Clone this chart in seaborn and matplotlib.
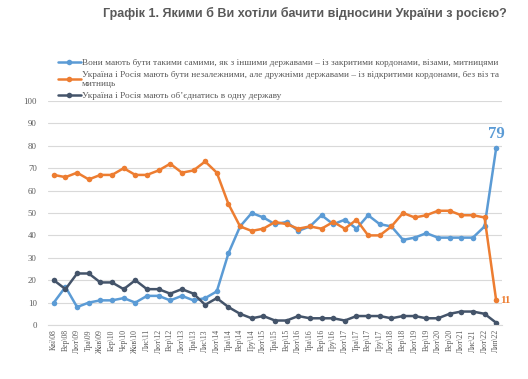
import matplotlib
matplotlib.use("Agg")
import matplotlib.pyplot as plt
import seaborn as sns
import pandas as pd

periods = ["Кві\\08", "Вер\\08", "Лют\\09", "Тра\\09", "Жов\\09", "Бер\\10", "Чер\\10", "Жов\\10",
           "Лис\\11", "Лют\\12", "Вер\\12", "Лют\\13", "Тра\\13", "Лис\\13", "Лют\\14", "Тра\\14",
           "Вер\\14", "Гру\\14", "Лют\\15", "Тра\\15", "Вер\\15", "Лют\\16", "Тра\\16", "Вер\\16",
           "Гру\\16", "Лют\\17", "Тра\\17", "Вер\\17", "Гру\\17", "Лют\\18", "Вер\\18", "Лют\\19",
           "Вер\\19", "Лют\\20", "Вер\\20", "Лют\\21", "Лис\\21", "Лют\\22", "Лип\\22"]

closed_borders = [10, 17, 8, 10, 11, 11, 12, 10, 13, 13, 11, 13, 11, 12, 15, 32, 44, 50, 48, 45,
                  46, 42, 44, 49, 45, 47, 43, 49, 45, 44, 38, 39, 41, 39, 39, 39, 39, 44, 79]
open_borders = [67, 66, 68, 65, 67, 67, 70, 67, 67, 69, 72, 68, 69, 73, 68, 54, 44, 42, 43, 46,
                45, 43, 44, 43, 46, 43, 47, 40, 40, 44, 50, 48, 49, 51, 51, 49, 49, 48, 11]
one_state = [20, 16, 23, 23, 19, 19, 16, 20, 16, 16, 14, 16, 14, 9, 12, 8, 5, 3, 4, 2,
             2, 4, 3, 3, 3, 2, 4, 4, 4, 3, 4, 4, 3, 3, 5, 6, 6, 5, 1]

series_names = [
    "Вони мають бути такими самими, як з іншими державами – із закритими кордонами, візами, митницями",
    "Україна і Росія мають бути незалежними, але дружніми державами – із відкритими кордонами, без віз та\nмитниць",
    "Україна і Росія мають об’єднатись в одну державу",
]
colors = ["#5B9BD5", "#ED7D31", "#44546A"]
title = "Графік 1. Якими б Ви хотіли бачити відносини України з росією?"

rows = []
for name, vals in zip(series_names, [closed_borders, open_borders, one_state]):
    for i, v in enumerate(vals):
        rows.append({"idx": i, "period": periods[i], "value": v, "series": name})
df = pd.DataFrame(rows)

sns.set_theme(style="white")
plt.rcParams["font.family"] = ["Liberation Serif", "DejaVu Serif"]

fig = plt.figure(figsize=(5.28, 3.79), dpi=100)
ax = fig.add_axes([48 / 528, 1 - 325 / 379, (502 - 48) / 528, (325 - 101) / 379])

sns.lineplot(data=df, x="idx", y="value", hue="series", hue_order=series_names,
             palette=colors, marker="o", markersize=4, markeredgewidth=0,
             linewidth=1.8, ax=ax, legend=True)

ax.set_xlim(-0.5, len(periods) - 0.5)
ax.set_ylim(0, 100)
ax.set_yticks(range(0, 101, 10))
ax.set_xticks(range(len(periods)))
ax.set_xticklabels(periods, rotation=90, fontsize=5.6, color="#595959")
ax.tick_params(axis="y", labelsize=6.3, labelcolor="#595959", length=0, pad=8)
ax.tick_params(axis="x", length=0, pad=3)
ax.grid(axis="y", color="#D9D9D9", linewidth=0.8)
ax.set_axisbelow(True)
for s in ["left", "right", "top"]:
    ax.spines[s].set_visible(False)
ax.spines["bottom"].set_color("#D9D9D9")
ax.spines["bottom"].set_linewidth(0.8)
ax.set_xlabel("")
ax.set_ylabel("")

handles, labels = ax.get_legend_handles_labels()
ax.get_legend().remove()
fig.legend(handles, labels, loc="upper left", bbox_to_anchor=(54 / 528, 1 - 55 / 379),
           frameon=False, fontsize=6.65, labelcolor="#595959", handlelength=2.5,
           handletextpad=0.15, labelspacing=0.4, borderaxespad=0)

last = len(periods) - 1
ax.annotate(str(closed_borders[last]), (last, closed_borders[last]), xytext=(0, 4),
            textcoords="offset points", ha="center", va="bottom", color=colors[0],
            fontsize=12, fontweight="bold")
ax.annotate(str(open_borders[last]), (last, open_borders[last]), xytext=(3, 0),
            textcoords="offset points", ha="left", va="center", color=colors[1],
            fontsize=8, fontweight="bold")

fig.text(305 / 528, 1 - 13 / 379, title, ha="center", va="center", fontsize=9,
         fontweight="bold", color="#595959", family=["Liberation Sans", "DejaVu Sans"])

fig.savefig("out.png", dpi=100)
